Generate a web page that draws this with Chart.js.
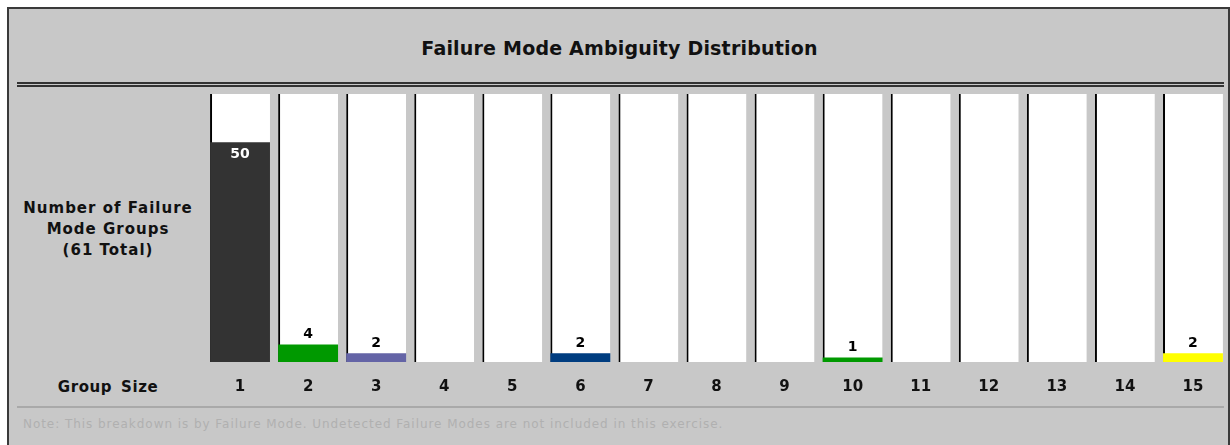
<!DOCTYPE html>
<html>
<head>
<meta charset="utf-8">
<script src="https://cdn.jsdelivr.net/npm/chart.js@4/dist/chart.umd.min.js"></script>
<style>
body{margin:0;width:1230px;height:445px;overflow:hidden;background:#fff;font-family:"DejaVu Sans",Verdana,sans-serif;}
#box{position:absolute;left:7px;top:7px;width:1223px;height:460px;box-sizing:border-box;background:#c8c8c8;border:2px solid #3a3a3a;}
#title{position:absolute;left:0;width:1239px;top:37px;text-align:center;font-weight:bold;font-size:19px;letter-spacing:0.2px;color:#111;}
#dbl{position:absolute;left:17px;top:82px;width:1207px;border-top:5px double #333;}
#ylab{position:absolute;left:18px;width:180px;top:198px;text-align:center;font-weight:bold;font-size:15px;line-height:21px;letter-spacing:1px;color:#111;}
#xlab{position:absolute;left:18px;width:180px;top:377px;text-align:center;font-weight:bold;font-size:15px;line-height:20px;letter-spacing:0.6px;word-spacing:3px;color:#111;}
#sep{position:absolute;left:17px;top:406px;width:1207px;height:2px;background:#a9a9a9;}
#note{position:absolute;left:23px;top:417px;font-size:12px;color:#b0b0b0;letter-spacing:0.95px;}
#chart{position:absolute;left:0;top:0;}
</style>
</head>
<body>
<div id="box"></div>
<div id="title">Failure Mode Ambiguity Distribution</div>
<div id="dbl"></div>
<div id="ylab">Number of Failure<br>Mode Groups<br>(61 Total)</div>
<div id="xlab">Group Size</div>
<div id="sep"></div>
<div id="note">Note: This breakdown is by Failure Mode. Undetected Failure Modes are not included in this exercise.</div>
<canvas id="chart" width="1230" height="445"></canvas>
<script>
var groupSizes=['1','2','3','4','5','6','7','8','9','10','11','12','13','14','15'];
var groupCounts=[50,4,2,0,0,2,0,0,0,1,0,0,0,0,2];
var barColors=['#333333','#009900','#6464a6','#333333','#333333','#003d80','#333333','#333333','#333333','#009900','#333333','#333333','#333333','#333333','#ffff00'];
var totalGroups=61;
var trackValues=groupSizes.map(function(){return totalGroups;});

var valueLabels={
    id:'valueLabels',
    afterDatasetsDraw:function(chart){
        var ctx=chart.ctx;
        var meta=chart.getDatasetMeta(1);
        ctx.save();
        ctx.font='bold 14px "DejaVu Sans"';
        ctx.textAlign='center';
        ctx.textBaseline='middle';
        meta.data.forEach(function(bar,i){
            var v=groupCounts[i];
            if(!v) return;
            if(bar.base-bar.y>30){
                ctx.fillStyle='#ffffff';
                ctx.fillText(v,bar.x,bar.y+12);
            }else{
                ctx.fillStyle='#000000';
                ctx.fillText(v,bar.x,bar.y-10);
            }
        });
        ctx.restore();
    }
};

new Chart(document.getElementById('chart').getContext('2d'),{
    type:'bar',
    data:{
        labels:groupSizes,
        datasets:[
            {
                label:'track',
                data:trackValues,
                backgroundColor:'#ffffff',
                borderColor:'#000000',
                borderWidth:{left:2,top:0,right:0,bottom:0},
                borderSkipped:false,
                grouped:false,
                order:2,
                barPercentage:0.88,
                categoryPercentage:1
            },
            {
                label:'Number of Failure Mode Groups',
                data:groupCounts,
                backgroundColor:barColors,
                borderWidth:0,
                grouped:false,
                order:1,
                barPercentage:0.88,
                categoryPercentage:1
            }
        ]
    },
    options:{
        responsive:false,
        animation:false,
        layout:{padding:{left:206,right:3,top:94,bottom:33}},
        plugins:{legend:{display:false},tooltip:{enabled:false}},
        scales:{
            x:{
                grid:{display:false,drawTicks:false},
                border:{display:false},
                ticks:{color:'#111',padding:16,font:{family:'"DejaVu Sans"',size:15,weight:'bold'}}
            },
            y:{display:false,min:0,max:totalGroups}
        }
    },
    plugins:[valueLabels]
});
</script>
</body>
</html>
